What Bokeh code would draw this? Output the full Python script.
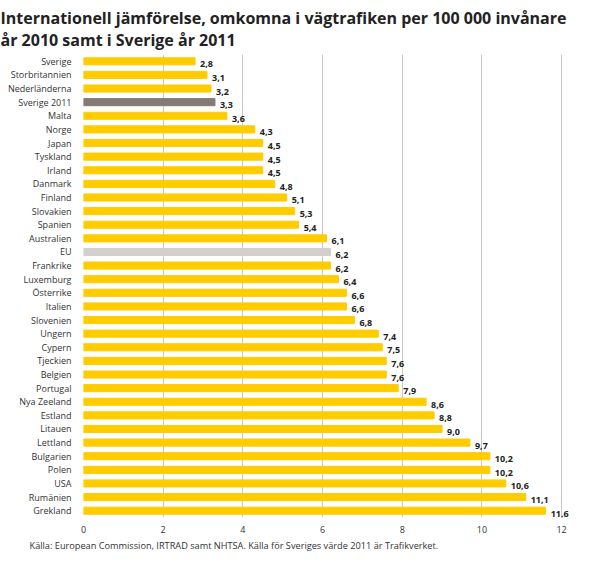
from bokeh.plotting import figure
from bokeh.models import ColumnDataSource, Title, FixedTicker
from bokeh.core.properties import value
from bokeh.embed import file_html
from bokeh.resources import INLINE

countries = ["Sverige", "Storbritannien", "Nederländerna", "Sverige 2011", "Malta", "Norge",
             "Japan", "Tyskland", "Irland", "Danmark", "Finland", "Slovakien", "Spanien",
             "Australien", "EU", "Frankrike", "Luxemburg", "Österrike", "Italien", "Slovenien",
             "Ungern", "Cypern", "Tjeckien", "Belgien", "Portugal", "Nya Zeeland", "Estland",
             "Litauen", "Lettland", "Bulgarien", "Polen", "USA", "Rumänien", "Grekland"]
values = [2.8, 3.1, 3.2, 3.3, 3.6, 4.3, 4.5, 4.5, 4.5, 4.8, 5.1, 5.3, 5.4, 6.1, 6.2, 6.2, 6.4,
          6.6, 6.6, 6.8, 7.4, 7.5, 7.6, 7.6, 7.9, 8.6, 8.8, 9.0, 9.7, 10.2, 10.2, 10.6, 11.1, 11.6]
x_ticks = [0, 2, 4, 6, 8, 10, 12]

YELLOW = "#FFCC00"
colors = []
for c in countries:
    if c == "Sverige 2011":
        colors.append("#857B74")
    elif c == "EU":
        colors.append("#D3D0CC")
    else:
        colors.append(YELLOW)

labels = [f"{v:.1f}".replace(".", ",") for v in values]
src = ColumnDataSource(dict(c=countries, v=values, col=colors, lab=labels))

p = figure(width=590, height=552, y_range=list(reversed(countries)), x_range=(0, 12.5),
           output_backend="svg", toolbar_location=None,
           min_border_left=83, min_border_right=9, min_border_top=0, min_border_bottom=0)
p.outline_line_color = None

p.hbar(y="c", right="v", left=0, height=0.52, color="col", source=src)
p.text(x="v", y="c", text="lab", source=src, x_offset=5, y_offset=3,
       text_font_size="9px", text_font_style="bold", text_color="#222222",
       text_baseline="middle", text_font=value("Open Sans"))

p.xaxis.ticker = FixedTicker(ticks=x_ticks)
p.xaxis.axis_line_color = None
p.xaxis.major_tick_line_color = None
p.xaxis.minor_tick_line_color = None
p.xaxis.major_label_text_font_size = "9px"
p.xaxis.major_label_text_color = "#333333"
p.xaxis.major_label_text_font = "Open Sans"
p.xaxis.major_label_standoff = 2

p.yaxis.axis_line_color = None
p.yaxis.major_tick_line_color = None
p.yaxis.minor_tick_line_color = None
p.yaxis.major_label_text_font_size = "9px"
p.yaxis.major_label_text_color = "#333333"
p.yaxis.major_label_text_font = "Open Sans"
p.yaxis.major_label_standoff = 6

p.ygrid.grid_line_color = None
p.xgrid.grid_line_color = "#C8C8C8"
p.xgrid.grid_line_width = 1
p.y_range.range_padding = 0

src_title = Title(text="Källa: European Commission, IRTRAD samt NHTSA. Källa för Sveriges värde 2011 är Trafikverket.",
                  text_font_size="9.2px", text_font_style="normal", text_color="#333333",
                  text_font="Open Sans", align="left", offset=-54, standoff=2)
p.add_layout(src_title, "below")

t1 = Title(text="Internationell jämförelse, omkomna i vägtrafiken per 100 000 invånare\når 2010 samt i Sverige år 2011",
           text_font_size="16px", text_font_style="bold", text_font="Open Sans",
           text_color="#222222", align="left", offset=-83, standoff=8)
p.add_layout(t1, "above")

open("out.html", "w").write(file_html(p, INLINE))
